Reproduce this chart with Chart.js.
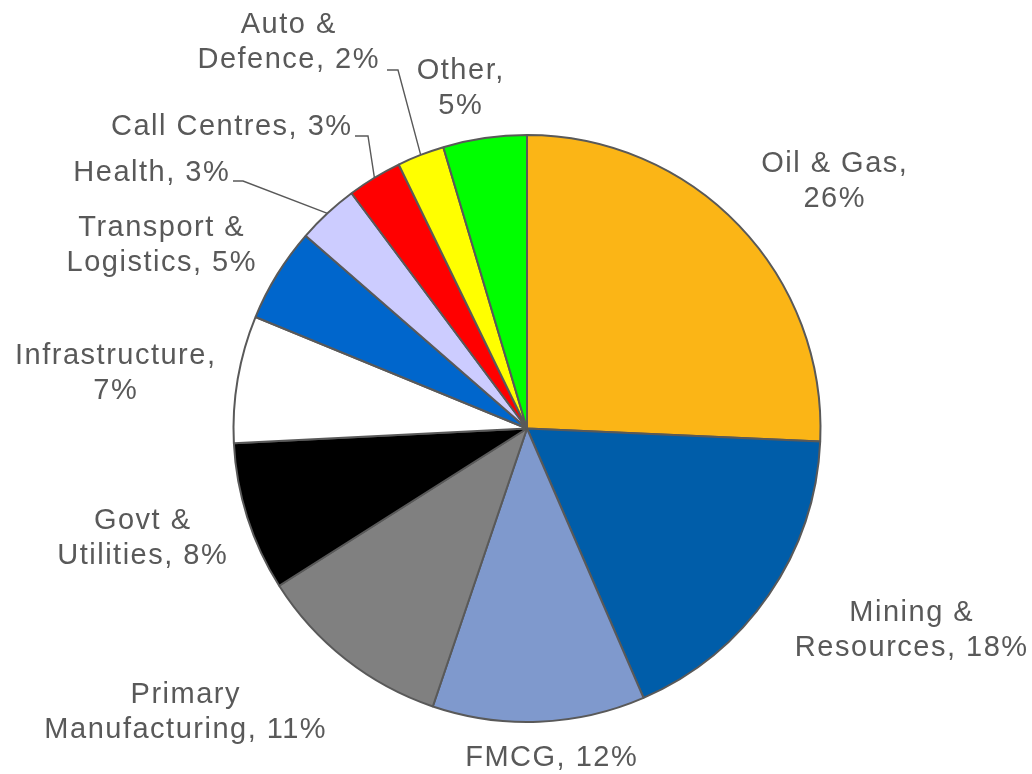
<!DOCTYPE html>
<html>
<head>
<meta charset="utf-8">
<script src="https://cdn.jsdelivr.net/npm/chart.js@4/dist/chart.umd.min.js"></script>
<style>
  html, body { margin: 0; padding: 0; background: #ffffff; }
  #wrap { width: 1032px; height: 774px; }
</style>
</head>
<body>
<div id="wrap"><canvas id="c" width="1032" height="774"></canvas></div>
<script>
// ---- data ----
const categories = ['Oil & Gas', 'Mining & Resources', 'FMCG', 'Primary Manufacturing',
  'Govt & Utilities', 'Infrastructure', 'Transport & Logistics', 'Health',
  'Call Centres', 'Auto & Defence', 'Other'];
const values = [25.7, 17.8, 11.7, 10.8, 8.2, 7.0, 5.2, 3.4, 3.0, 2.6, 4.6];
const pctLabels = ['26%', '18%', '12%', '11%', '8%', '7%', '5%', '3%', '3%', '2%', '5%'];
const colors = ['#FBB516', '#005DA9', '#7F99CD', '#808080', '#000000', '#FFFFFF',
  '#0066CC', '#CCCCFF', '#FF0000', '#FFFF00', '#00FF00'];

// ---- label layout (text block centre, words on first line, optional leader start) ----
const labelLayout = [
  { x: 834, y: 179.5, brk: 3 },
  { x: 911, y: 628, brk: 2 },
  { x: 551, y: 756, brk: 0 },
  { x: 185, y: 710.5, brk: 1 },
  { x: 142, y: 536.5, brk: 2 },
  { x: 115, y: 371, brk: 1 },
  { x: 161, y: 243.5, brk: 2 },
  { x: 151, y: 171, brk: 0, leader: [233, 181, 243] },
  { x: 231, y: 125, brk: 0, leader: [355, 136, 368] },
  { x: 288, y: 40.5, brk: 2, leader: [387, 70, 398] },
  { x: 460, y: 86, brk: 1 }
];

const FONT_SIZE = 29;
const LINE_H = 35;
const TEXT_COLOR = '#595959';

const labelPlugin = {
  id: 'outerLabels',
  afterDatasetsDraw(chart) {
    const ctx = chart.ctx;
    const meta = chart.getDatasetMeta(0);
    ctx.save();
    ctx.font = FONT_SIZE + 'px "Liberation Sans", Arial, sans-serif';
    try { ctx.letterSpacing = '1.5px'; } catch (e) {}
    ctx.fillStyle = TEXT_COLOR;
    ctx.textAlign = 'center';
    ctx.textBaseline = 'alphabetic';
    categories.forEach((name, i) => {
      const lay = labelLayout[i];
      const words = (name + ', ' + pctLabels[i]).split(' ');
      const lines = lay.brk > 0
        ? [words.slice(0, lay.brk).join(' '), words.slice(lay.brk).join(' ')]
        : [words.join(' ')];
      const top = lay.y - (lines.length - 1) * LINE_H / 2;
      lines.forEach((ln, k) => {
        ctx.fillText(ln, lay.x + 0.75, top + k * LINE_H + FONT_SIZE * 0.358);
      });
      if (lay.leader) {
        const arc = meta.data[i];
        const mid = (arc.startAngle + arc.endAngle) / 2;
        const px = arc.x + Math.cos(mid) * arc.outerRadius;
        const py = arc.y + Math.sin(mid) * arc.outerRadius;
        ctx.strokeStyle = TEXT_COLOR;
        ctx.lineWidth = 1.4;
        ctx.beginPath();
        ctx.moveTo(lay.leader[0], lay.leader[1]);
        ctx.lineTo(lay.leader[2], lay.leader[1]);
        ctx.lineTo(px, py);
        ctx.stroke();
      }
    });
    ctx.restore();
  }
};

new Chart(document.getElementById('c'), {
  type: 'pie',
  data: {
    labels: categories,
    datasets: [{
      data: values,
      backgroundColor: colors,
      borderColor: '#595959',
      borderWidth: 2
    }]
  },
  options: {
    responsive: false,
    devicePixelRatio: 1,
    animation: false,
    layout: { padding: { top: 134, bottom: 51, left: 232, right: 210 } },
    plugins: {
      legend: { display: false },
      tooltip: { enabled: false }
    }
  },
  plugins: [labelPlugin]
});
</script>
</body>
</html>
